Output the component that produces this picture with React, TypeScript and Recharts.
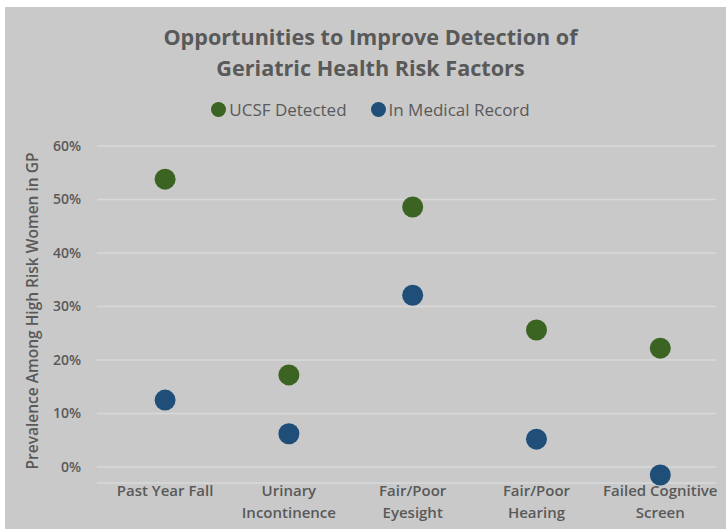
import React from 'react';
import { ComposedChart, Scatter, XAxis, YAxis, CartesianGrid, Legend } from 'recharts';

const categories = [
  'Past Year Fall',
  'Urinary Incontinence',
  'Fair/Poor Eyesight',
  'Fair/Poor Hearing',
  'Failed Cognitive Screen',
];
const ucsfDetected = [0.538, 0.172, 0.486, 0.256, 0.222];
const inMedicalRecord = [0.125, 0.062, 0.321, 0.052, -0.015];
const yTicks = [0, 0.1, 0.2, 0.3, 0.4, 0.5, 0.6];
const xPositions = [0, 1, 2, 3, 4];
const seriesNames = ['UCSF Detected', 'In Medical Record'];
const titleLines = ['Opportunities to Improve Detection of', 'Geriatric Health Risk Factors'];
const yAxisTitle = 'Prevalence Among High Risk Women in GP';

const GREEN = '#3b6321';
const BLUE = '#1f4e79';
const seriesColors = [GREEN, BLUE];
const TEXT = '#595959';
const BG = '#c9c9c9';
const GRID = '#d9d9d9';
const FONT = '"Open Sans", Lato, sans-serif';

const rows = categories.map((c, i) => ({
  x: xPositions[i],
  cat: c,
  ucsf: ucsfDetected[i],
  record: inMedicalRecord[i],
}));

function wrapLabel(s: string, max = 16): string[] {
  const words = s.split(' ');
  const lines: string[] = [];
  let cur = '';
  for (const w of words) {
    const next = cur ? cur + ' ' + w : w;
    if (next.length > max && cur) {
      lines.push(cur);
      cur = w;
    } else {
      cur = next;
    }
  }
  if (cur) lines.push(cur);
  return lines;
}

const XTick = (props: any) => {
  const { x, y, payload } = props;
  const label = categories[Math.round(payload.value)] ?? '';
  const lines = wrapLabel(label);
  return (
    <text x={x} y={y} textAnchor="middle" fill={TEXT} fontSize={15} fontFamily={FONT} fontWeight={600}>
      {lines.map((l, i) => (
        <tspan key={i} x={x} dy={i === 0 ? 13 : 21.5}>
          {l}
        </tspan>
      ))}
    </text>
  );
};

const dot = (color: string) => (p: any) => <circle cx={p.cx} cy={p.cy} r={10.5} fill={color} />;

const renderLegend = () => (
  <div style={{ display: 'flex', justifyContent: 'center', gap: 24, fontFamily: FONT, fontSize: 17, color: TEXT }}>
    {seriesNames.map((n, i) => (
      <div key={i} style={{ display: 'flex', alignItems: 'center' }}>
        <span
          style={{
            display: 'inline-block',
            width: 15,
            height: 15,
            borderRadius: '50%',
            background: seriesColors[i],
            marginRight: 3,
          }}
        />
        <span>{n}</span>
      </div>
    ))}
  </div>
);

export default function App() {
  return (
    <div
      style={{
        position: 'absolute',
        left: 5,
        top: 7,
        width: 721,
        height: 522,
        background: BG,
        overflow: 'hidden',
      }}
    >
      <div
        style={{
          position: 'absolute',
          left: 0,
          top: 14,
          width: 731,
          textAlign: 'center',
          fontFamily: FONT,
          fontWeight: 700,
          fontSize: 21.6,
          lineHeight: '31px',
          color: TEXT,
        }}
      >
        {titleLines.map((t, i) => (
          <div key={i}>{t}</div>
        ))}
      </div>
      <div
        style={{
          position: 'absolute',
          left: 27 - 200,
          top: 304 - 10,
          width: 400,
          height: 20,
          lineHeight: '20px',
          textAlign: 'center',
          transform: 'rotate(-90deg)',
          fontFamily: FONT,
          fontWeight: 600,
          fontSize: 15.5,
          color: TEXT,
        }}
      >
        {yAxisTitle}
      </div>
      <ComposedChart
        width={721}
        height={522}
        data={rows}
        margin={{ top: 139, right: 10, bottom: 0, left: 0 }}
        style={{ position: 'absolute', left: 0, top: 0 }}
      >
        <CartesianGrid vertical={false} stroke={GRID} strokeWidth={1.5} />
        <XAxis
          dataKey="x"
          type="number"
          domain={[-0.55, 4.45]}
          ticks={xPositions}
          height={46}
          axisLine={false}
          tickLine={false}
          tickSize={0}
          tickMargin={0}
          interval={0}
          tick={<XTick />}
        />
        <YAxis
          type="number"
          domain={[-0.03, 0.6]}
          ticks={yTicks}
          width={92}
          axisLine={false}
          tickLine={false}
          tickSize={0}
          tickMargin={16}
          tickFormatter={(v: number) => `${Math.round(v * 100)}%`}
          tick={{ fill: TEXT, fontSize: 14, fontFamily: FONT, fontWeight: 600 }}
        />
        <Legend
          layout="horizontal"
          verticalAlign="middle"
          align="center"
          content={renderLegend}
          wrapperStyle={{ top: 91, left: 0, width: 731 }}
        />
        <Scatter name={seriesNames[0]} dataKey="ucsf" fill={GREEN} shape={dot(GREEN)} isAnimationActive={false} />
        <Scatter name={seriesNames[1]} dataKey="record" fill={BLUE} shape={dot(BLUE)} isAnimationActive={false} />
      </ComposedChart>
    </div>
  );
}
